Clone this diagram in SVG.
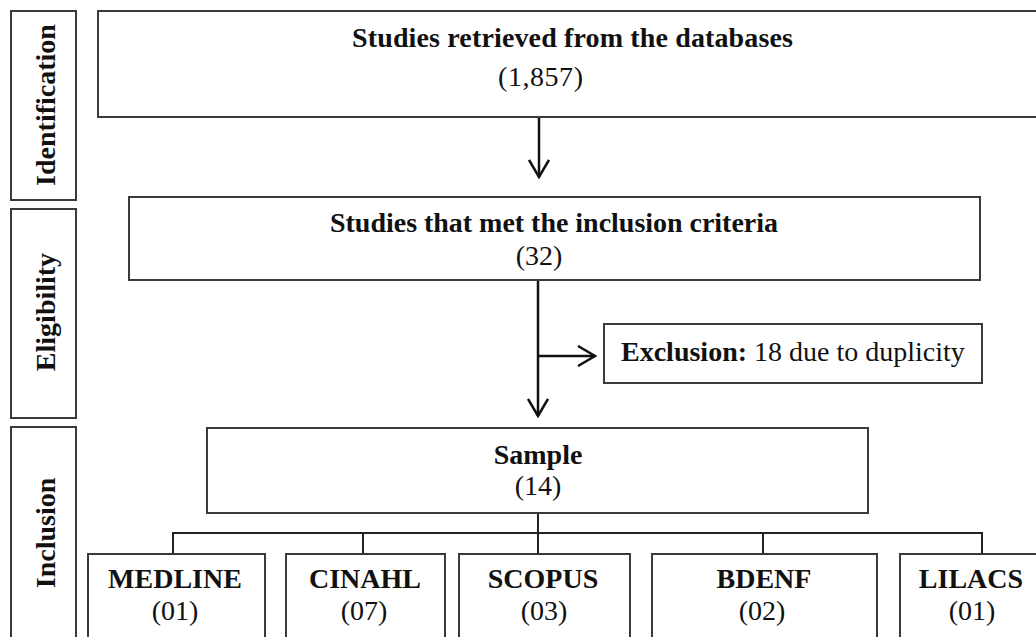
<svg xmlns="http://www.w3.org/2000/svg" width="1036" height="637" viewBox="0 0 1036 637">
<style>
.box{fill:#fff;stroke:#3a3a3a;stroke-width:2}
.b{font-family:"Liberation Serif","Times New Roman",serif;font-weight:bold;font-size:28px;fill:#111}
.r{font-family:"Liberation Serif","Times New Roman",serif;font-weight:normal;font-size:28px;fill:#111}
.c{text-anchor:middle}
.arrow{fill:none;stroke:#111;stroke-width:2.5}
.bus{fill:none;stroke:#222;stroke-width:2}
</style>
<defs>
<marker id="ah" markerUnits="userSpaceOnUse" viewBox="0 0 20 22" markerWidth="20" markerHeight="22" refX="18" refY="11" orient="auto">
<path d="M1,1 L18,11 L1,21" fill="none" stroke="#111" stroke-width="2.5"/>
</marker>
</defs>
<rect width="1036" height="637" fill="#fff"/>

<g id="phase-identification">
<rect class="box" x="11" y="11" width="65" height="189"/>
<text class="b c" transform="translate(55,105) rotate(-90)">Identification</text>
</g>
<g id="phase-eligibility">
<rect class="box" x="11" y="209" width="65" height="209"/>
<text class="b c" transform="translate(55,312) rotate(-90)">Eligibility</text>
</g>
<g id="phase-inclusion">
<rect class="box" x="11" y="427" width="65" height="230"/>
<text class="b c" transform="translate(55,533) rotate(-90)">Inclusion</text>
</g>

<g id="connectors">
<line class="arrow" x1="539" y1="117" x2="539" y2="177" marker-end="url(#ah)"/>
<line class="arrow" x1="538" y1="280" x2="538" y2="416" marker-end="url(#ah)"/>
<line class="arrow" x1="538" y1="356" x2="595" y2="356" marker-end="url(#ah)"/>
<line class="bus" x1="538" y1="513" x2="538" y2="554"/>
<polyline class="bus" points="173,554 173,533 982,533 982,554"/>
<line class="bus" x1="363" y1="533" x2="363" y2="554"/>
<line class="bus" x1="763" y1="533" x2="763" y2="554"/>
</g>

<g id="node-retrieved">
<rect class="box" x="98" y="11" width="960" height="106"/>
<text class="b" x="352" y="47" textLength="441" lengthAdjust="spacing">Studies retrieved  from the databases</text>
<text class="r" x="498" y="86" textLength="85" lengthAdjust="spacing">(1,857)</text>
</g>

<g id="node-inclusion-criteria">
<rect class="box" x="129" y="197" width="851" height="83"/>
<text class="b" x="330" y="232" textLength="448" lengthAdjust="spacing">Studies that met the inclusion  criteria</text>
<text class="r c" x="539" y="265">(32)</text>
</g>

<g id="node-exclusion">
<rect class="box" x="604" y="324" width="378" height="59"/>
<text x="621" y="361"><tspan class="b">Exclusion:</tspan><tspan class="r"> 18 due to duplicity</tspan></text>
</g>

<g id="node-sample">
<rect class="box" x="207" y="428" width="661" height="85"/>
<text class="b c" x="538" y="464">Sample</text>
<text class="r c" x="538" y="495">(14)</text>
</g>

<g id="node-medline">
<rect class="box" x="88" y="554" width="177" height="100"/>
<text class="b c" x="175" y="588">MEDLINE</text>
<text class="r c" x="175" y="620">(01)</text>
</g>
<g id="node-cinahl">
<rect class="box" x="286" y="554" width="159" height="100"/>
<text class="b c" x="365" y="588">CINAHL</text>
<text class="r c" x="364" y="620">(07)</text>
</g>
<g id="node-scopus">
<rect class="box" x="459" y="554" width="171" height="100"/>
<text class="b c" x="543" y="588">SCOPUS</text>
<text class="r c" x="544" y="620">(03)</text>
</g>
<g id="node-bdenf">
<rect class="box" x="652" y="554" width="225" height="100"/>
<text class="b c" x="764" y="588">BDENF</text>
<text class="r c" x="762" y="620">(02)</text>
</g>
<g id="node-lilacs">
<rect class="box" x="900" y="554" width="160" height="100"/>
<text class="b c" x="971" y="588">LILACS</text>
<text class="r c" x="972" y="620">(01)</text>
</g>
</svg>
